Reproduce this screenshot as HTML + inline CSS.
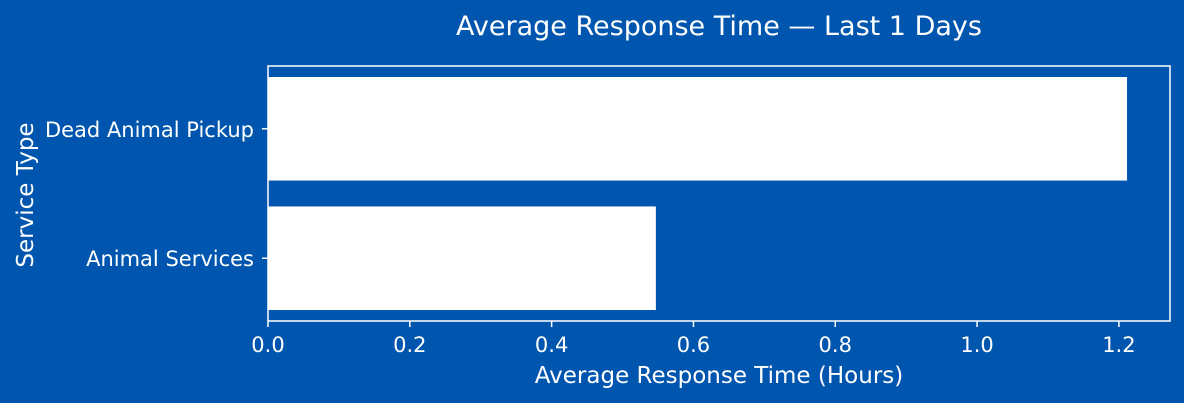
<!DOCTYPE html>
<html><head><meta charset="utf-8"><style>
html,body{margin:0;padding:0;background:#0055ae;}
svg{display:block;font-family:"DejaVu Sans","Liberation Sans",sans-serif;}
</style></head><body>
<svg id="chart" width="1184" height="403" xmlns="http://www.w3.org/2000/svg">
<rect width="1184" height="403" fill="#0055ae"/>
<text x="719" y="35" fill="#fff" font-size="27" text-anchor="middle">Average Response Time — Last 1 Days</text>
<g id="bars"></g>
<g id="axes"></g>
<text x="719" y="383" fill="#fff" font-size="23" text-anchor="middle">Average Response Time (Hours)</text>
<text transform="translate(33,195) rotate(-90)" fill="#fff" font-size="23" text-anchor="middle">Service Type</text>
</svg>
<script>
const categories = ["Animal Services", "Dead Animal Pickup"];
const values = [0.547, 1.2115];
const xTicks = [0, 0.2, 0.4, 0.6, 0.8, 1.0, 1.2];
const xTickLabels = ["0.0", "0.2", "0.4", "0.6", "0.8", "1.0", "1.2"];

const NS = "http://www.w3.org/2000/svg";
const L = 268, R = 1170, T = 66, B = 321;
const xMax = Math.max(...values) * 1.05;
const x = v => L + (v / xMax) * (R - L);
const yMin = -0.485, yMax = categories.length - 1 + 0.485;
const y = i => B - (i - yMin) / (yMax - yMin) * (B - T);
const bandH = (B - T) / (yMax - yMin);
function mk(tag, attrs, parent) {
  const e = document.createElementNS(NS, tag);
  for (const k in attrs) e.setAttribute(k, attrs[k]);
  parent.appendChild(e);
  return e;
}
const bars = document.getElementById("bars"), axes = document.getElementById("axes");
values.forEach((v, i) => {
  const r = mk("rect", {x: x(0), y: y(i) - bandH * 0.4, width: x(v) - x(0), height: bandH * 0.8, fill: "#fff"}, bars);
  
  
  const ln = mk("line", {x1: L - 6, x2: L, y1: y(i), y2: y(i), stroke: "#fff", "stroke-width": 1.5}, axes);
  
  
  const t = mk("text", {x: L - 14, y: y(i) + 8, fill: "#fff", "font-size": 21, "text-anchor": "end"}, axes);
  t.textContent = categories[i];
  
  
});
const frame = mk("rect", {x: L, y: T, width: R - L, height: B - T, fill: "none", stroke: "#fff", "stroke-width": 1.5}, axes);


xTicks.forEach((v, i) => {
  const ln = mk("line", {x1: x(v), x2: x(v), y1: B, y2: B + 6, stroke: "#fff", "stroke-width": 1.5}, axes);
  
  
  const t = mk("text", {x: x(v), y: B + 31, fill: "#fff", "font-size": 21, "text-anchor": "middle"}, axes);
  t.textContent = xTickLabels[i];
  
  
});
</script>
</body></html>
